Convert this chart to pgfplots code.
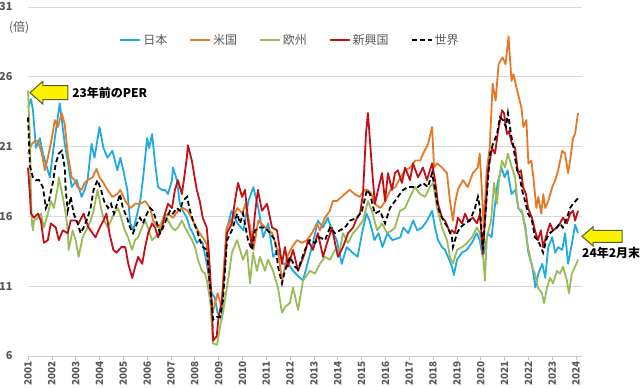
\documentclass[border=0pt]{standalone}
\usepackage{fontspec}
\setmainfont{Noto Sans CJK JP}
\usepackage{pgfplots}
\pgfplotsset{compat=1.18}
\usetikzlibrary{calc}
\definecolor{cJP}{RGB}{32,171,224}
\definecolor{cUS}{RGB}{228,122,40}
\definecolor{cEU}{RGB}{155,187,89}
\definecolor{cEM}{RGB}{192,16,24}
\definecolor{ctxt}{RGB}{89,89,89}
\definecolor{arrowedge}{RGB}{79,98,40}
\begin{document}
\begin{tikzpicture}
\begin{axis}[
  scale only axis, width=554pt, height=349pt,
  xmin=0, xmax=279, ymin=6, ymax=31,
  clip=false,
  ytick={6,11,16,21,26,31},
  xtick={0,12,24,36,48,60,72,84,96,108,120,132,144,156,168,180,192,204,216,228,240,252,264,276},
  xticklabels={2001,2002,2003,2004,2005,2006,2007,2008,2009,2010,2011,2012,2013,2014,2015,2016,2017,2018,2019,2020,2021,2022,2023,2024},
  ymajorgrids, major grid style={draw=gray!30, line width=0.8pt},
  axis x line*=bottom, axis y line*=left,
  y axis line style={draw=none},
  x axis line style={draw=gray!40, line width=0.8pt},
  ytick style={draw=none},
  xtick style={draw=gray!50, line width=0.6pt},
  tick align=outside, major tick length=4pt,
  /pgf/number format/assume math mode=true,
  yticklabel style={font=\bfseries\fontsize{11}{12}\selectfont, text=ctxt, xshift=-8pt},
  xticklabel style={font=\bfseries\fontsize{10}{11}\selectfont, text=ctxt, rotate=90, anchor=east, inner sep=1pt},
  legend style={at={(axis description cs:0.473,0.905)}, anchor=center, draw=none, fill=none,
    legend columns=5, font=\fontsize{12}{14}\selectfont, text=ctxt,
    /tikz/every even column/.append style={column sep=20pt}},
  legend image code/.code={\draw[#1] (0pt,0pt) -- (20pt,0pt);},
]
\addplot[color=cJP, line width=1.8pt, line join=round] coordinates {
(0,23.8)(1.5,24.4)(2.5,23.6)(4,20.9)(6,21.6)(7.5,20.5)(11,18.8)(13.5,21.6)(16,24.1)(18.5,21.2)(20,20.0)(22,18.1)(24.5,18.6)(27,17.4)(28.5,17.9)(30,18.6)(32,21.2)(33.5,20.2)(36,22.4)(38,20.9)(40,20.2)(42.5,20.7)(45,19.3)(46.5,20.2)(48,19.3)(50,17.9)(51.5,15.5)(53,15.0)(55,16.2)(56.5,17.1)(58,18.8)(60,21.6)(61,20.9)(62.5,21.9)(64,19.8)(65.5,18.1)(67.5,17.9)(69,17.9)(70.5,17.6)(72.5,18.6)(73,19.5)(75,18.6)(76.5,16.9)(78,16.4)(80,15.9)(81.5,15.2)(83,14.8)(85,14.1)(86.5,14.3)(88,14.1)(90,12.6)(92.5,10.5)(94,10.2)(95.5,9.1)(97.5,8.6)(98.5,11.5)(100,15.0)(102.5,16.4)(105.5,15.5)(108.5,15.0)(111,17.1)(113.5,18.1)(116,16.6)(118.5,14.5)(121,15.5)(123.5,13.1)(126,13.6)(128.5,12.6)(131,12.6)(133.5,12.1)(137,11.6)(138.5,11.4)(143.5,14.1)(146,15.7)(148.5,15.2)(151,15.9)(153,15.0)(155.5,14.3)(158,12.6)(160.5,13.8)(163.5,13.4)(166,13.1)(168.5,15.0)(170.5,16.2)(172,15.7)(174.5,14.3)(176.5,14.8)(178.5,13.8)(181,14.8)(183.5,14.3)(187.5,14.5)(189,15.2)(191.5,14.8)(194,15.7)(196,15.0)(198.5,15.2)(201,15.7)(203.5,16.4)(205,15.2)(206.5,14.3)(208.5,13.8)(210,13.6)(211.5,13.1)(213.5,12.4)(214.5,11.8)(216,12.9)(218.5,13.4)(221,13.6)(223.5,14.1)(226,14.8)(227.5,14.3)(229,13.1)(230,13.6)(231.5,14.8)(233.5,14.5)(235,16.6)(236.5,18.4)(238.5,19.5)(240,18.8)(241.5,19.3)(243.5,17.6)(245.5,17.9)(247,16.6)(249,16.2)(250.5,15.2)(252,13.4)(254,12.4)(255.5,10.9)(257,11.9)(259,12.6)(260.5,11.6)(262,13.8)(264,14.5)(265.5,13.4)(267,13.8)(269,13.6)(270.5,14.8)(272,12.6)(274,14.1)(275.5,15.4)(277,14.8)
};
\addlegendentry{日本}
\addplot[color=cUS, line width=1.8pt, line join=round] coordinates {
(0,20.5)(2,21.2)(3.5,21.4)(5,21.4)(7,20.5)(8.5,19.3)(10,20.2)(12,21.6)(13.5,22.9)(15,22.4)(17,23.4)(18.5,22.6)(20,20.5)(22,18.8)(23.5,18.6)(25,18.1)(27,17.9)(28.5,18.4)(30,18.6)(32.5,18.8)(34.5,19.4)(36,18.8)(38,18.4)(40,17.9)(42.5,17.4)(45,17.6)(46.5,17.9)(49,17.1)(51.5,16.6)(54,16.9)(56.5,16.9)(59,17.1)(61.5,16.6)(63,15.7)(65.5,15.2)(68,15.7)(70.5,16.2)(73,15.9)(75.5,16.4)(78,16.6)(80.5,16.4)(83,15.7)(85.5,15.0)(88,14.5)(90,14.0)(91.5,10.7)(93,9.1)(95.5,10.5)(97.5,9.5)(98.5,12.0)(100,15.2)(103,15.9)(105.5,16.6)(108,16.2)(109.5,16.9)(112,15.2)(113.5,13.6)(116,15.7)(119.5,15.2)(123,14.8)(126,13.4)(128,11.4)(130.5,13.1)(133,13.8)(135.5,14.3)(138,14.1)(140.5,14.3)(143,14.8)(145.5,15.5)(147,15.0)(149.5,15.9)(152,16.4)(153.5,17.1)(155.5,17.1)(158,17.4)(159.5,17.6)(162,17.9)(164.5,17.6)(167,17.4)(169.5,17.9)(171,17.9)(173,17.6)(174.5,16.9)(177.5,16.6)(180,17.1)(182.5,17.9)(185,18.1)(187.5,18.8)(190,19.3)(192.5,19.5)(195,20.0)(197.5,20.0)(199,20.5)(201.5,21.2)(203.5,22.4)(204.5,19.5)(206,19.8)(208.5,19.5)(211,19.1)(212.5,17.1)(214,15.7)(215,16.9)(216.5,17.9)(219,18.6)(221.5,18.1)(224,19.1)(226.5,19.5)(227.5,20.5)(228.5,18.1)(229.5,15.2)(231,19.3)(232.5,20.9)(234,25.5)(235.5,24.3)(237,26.9)(239,27.4)(240.5,26.9)(242,28.9)(243.5,25.7)(244.5,26.2)(246,25.2)(248.5,23.8)(249.5,22.4)(251,22.9)(252,19.8)(253.5,20.0)(254.5,18.8)(256,16.6)(257,17.4)(258.5,16.2)(259.5,17.6)(260.5,16.6)(262,17.1)(264,18.1)(265.5,18.6)(267,19.3)(269,20.7)(270.5,20.5)(272,19.1)(273,20.0)(274.5,21.6)(275.5,21.9)(277,23.4)
};
\addlegendentry{米国}
\addplot[color=cEU, line width=1.8pt, line join=round] coordinates {
(0,25.0)(1,21.5)(1.5,17.4)(2,15.5)(2.5,15.0)(3,15.7)(5,15.9)(6.5,16.2)(8,15.2)(10,16.2)(11.5,17.1)(13,16.6)(15,18.1)(15.5,18.8)(17.5,17.4)(19,16.2)(20,15.0)(20.5,13.6)(22.5,15.0)(24,14.3)(25.5,13.1)(27.5,14.5)(30,15.2)(31.5,15.7)(33,16.4)(35,17.9)(36.8,16.6)(38.3,15.7)(40.3,15.2)(41.8,15.7)(43.3,16.2)(45.3,16.6)(46.3,16.2)(48.8,15.0)(50.4,14.5)(52.4,13.6)(53.9,14.3)(55.4,14.5)(57.4,15.2)(58.9,15.7)(60.4,15.2)(62.4,14.3)(64,14.5)(65.5,14.8)(67.5,15.7)(69,16.2)(70.5,15.7)(72.5,15.2)(74,15.0)(75.5,15.2)(77.5,15.7)(79.1,15.2)(80.6,14.8)(82.6,14.3)(84.1,13.8)(85.6,12.9)(87.6,12.1)(89.1,11.9)(90.1,11.4)(91.7,10.0)(93.2,6.9)(95.2,6.8)(96.7,8.1)(98.2,9.1)(100.7,11.4)(102.7,13.4)(105.3,14.3)(106.8,13.6)(108.3,12.9)(110.3,13.6)(111.8,11.2)(113.3,13.4)(115.3,12.1)(116.8,13.1)(119.4,12.1)(120.9,12.9)(123.4,12.1)(125.9,10.9)(127.9,9.1)(129.4,9.5)(131.9,9.8)(133.5,10.9)(136,9.3)(138.5,11.4)(142,12.1)(144.5,11.9)(147,12.6)(149.6,13.1)(152.1,12.9)(154.6,13.6)(157.1,13.6)(158.6,14.8)(161.2,14.1)(163.7,14.8)(166.2,15.2)(168.7,15.7)(171.2,17.1)(173.2,16.4)(175.8,15.0)(178.3,15.5)(180.8,14.8)(183.3,15.0)(184.8,15.2)(187.3,16.4)(189.9,16.6)(192.4,17.4)(194.9,18.1)(197.4,17.6)(199.9,17.4)(202.4,18.1)(204,18.4)(206,16.6)(208.5,15.2)(211,14.3)(212.5,13.1)(214,12.6)(216.1,13.6)(218.6,13.8)(221.1,14.1)(223.6,14.5)(226.1,15.2)(227.6,14.8)(229.1,13.4)(230.1,11.4)(231.1,14.5)(233.2,15.7)(234.7,18.4)(236.2,16.9)(237.2,18.6)(238.7,20.0)(240.2,19.5)(241.7,20.5)(243.7,19.5)(245.3,18.8)(246.8,16.6)(248.8,16.4)(250.3,15.2)(251.8,13.8)(253.8,12.4)(255.3,11.9)(256.8,10.9)(258.8,10.5)(259.9,9.8)(261.4,10.9)(262.9,11.6)(264.4,11.2)(266.4,12.1)(267.9,11.9)(269.4,12.4)(271.4,11.4)(272.4,10.5)(273.9,11.9)(275.5,12.4)(277,12.9)
};
\addlegendentry{欧州}
\addplot[color=cEM, line width=1.8pt, line join=round] coordinates {
(0,19.5)(1,17.5)(1.5,16.2)(3,15.9)(5,16.2)(6.5,15.7)(8,14.1)(10,14.3)(11.5,15.5)(14,15.2)(15.5,14.3)(17.5,15.0)(20,14.8)(21.5,15.7)(24,15.7)(25.5,15.5)(28,16.2)(30.5,15.2)(32.5,14.8)(34,14.5)(35.5,15.0)(38,15.7)(39.5,16.2)(41,14.8)(43,13.6)(44.5,13.4)(47,13.8)(49,13.8)(50.5,12.6)(52.5,11.6)(54,12.4)(55.5,13.1)(57.5,12.6)(59,13.8)(60.5,14.8)(62.5,15.5)(64,15.2)(65.5,14.5)(67.5,15.2)(69,16.2)(70.5,16.9)(72.5,16.6)(74,17.9)(75.5,18.6)(77.5,17.6)(78.5,18.6)(80,20.2)(80.5,21.1)(82.5,20.0)(85,17.9)(86.5,17.1)(88,15.9)(90,15.2)(91,13.6)(92.7,9.5)(93.2,7.1)(95,7.4)(96,8.8)(97.7,10.0)(99.2,12.6)(100.2,14.8)(102.7,15.5)(104.2,17.1)(105.8,18.4)(107.8,17.4)(109.3,17.9)(110.8,15.7)(112.8,13.8)(114.3,16.2)(115.8,17.9)(117.8,16.4)(120.4,16.9)(122.9,15.2)(125.4,15.0)(127.9,12.6)(129.4,13.8)(130.9,12.4)(133.5,13.6)(136,12.1)(139.5,13.4)(141,14.3)(143.5,13.6)(146,14.8)(148.6,13.1)(150.6,14.1)(153.1,15.2)(154.6,14.1)(156.1,13.1)(158.6,13.8)(161.2,14.8)(163.7,15.2)(165.7,15.9)(167.2,16.2)(168.7,17.6)(170.2,21.9)(171.2,23.4)(173.2,19.5)(174.7,16.9)(176.3,17.9)(178.3,19.1)(179.8,17.1)(181.3,19.1)(183.3,17.9)(184.8,19.1)(186.3,19.3)(188.3,18.4)(189.9,19.5)(192.4,18.6)(193.9,19.8)(196.4,18.8)(198.9,19.5)(200.9,18.6)(203.5,19.8)(205,18.6)(206.5,16.9)(208.5,15.9)(210,15.7)(211.5,15.2)(212.5,14.8)(213.5,15.0)(215,14.8)(216.5,15.9)(218.6,15.5)(220.1,16.2)(221.6,15.7)(224.1,15.9)(226.1,15.5)(227.6,16.2)(229.1,13.3)(230.1,15.7)(231.7,19.3)(233.7,20.9)(235.2,20.5)(236.7,22.1)(238.7,23.6)(239.7,23.4)(241.2,21.9)(242.2,22.1)(243.7,21.2)(245.3,20.9)(246.8,19.1)(248.3,19.3)(249.3,18.1)(250.8,17.6)(251.8,16.6)(253.8,15.9)(255.3,15.0)(256.8,14.3)(258.3,15.0)(259.4,13.8)(261.4,14.8)(262.9,15.5)(264.4,15.0)(266.4,15.2)(267.9,15.5)(269.4,15.9)(271.4,15.5)(273,16.2)(274.5,16.4)(275.5,15.7)(277,16.4)
};
\addlegendentry{新興国}
\addplot[color=black, line width=1.8pt, dash pattern=on 5pt off 3pt] coordinates {
(0,23.1)(1,19.6)(2.5,18.8)(4,18.6)(5.5,18.6)(7.5,18.1)(9,16.6)(10.5,17.1)(12.5,18.4)(14,19.8)(15.5,20.5)(17,20.7)(18.5,19.5)(19,17.9)(20,16.4)(21.5,17.4)(23,16.2)(25,15.5)(26.5,14.8)(28,15.2)(30,15.9)(31.5,16.6)(33,17.9)(35,18.6)(36.8,17.9)(38.3,17.1)(40.3,16.6)(41.8,16.9)(43.3,16.2)(45.3,17.1)(46.3,17.6)(47.8,16.6)(49.9,15.9)(51.4,15.2)(52.9,14.8)(54.9,15.5)(56.4,15.9)(57.9,15.5)(59.9,16.2)(61.4,16.6)(63,16.4)(65,15.5)(66.5,14.8)(68,15.2)(70,15.9)(71.5,16.4)(73,16.2)(75,16.6)(76.5,16.4)(78,17.1)(80.1,17.4)(81.6,16.4)(83.1,15.7)(85.1,15.0)(86.6,14.3)(88.1,13.8)(90.1,13.6)(91.7,10.9)(93.2,8.6)(95.2,8.8)(96.7,8.8)(98.2,10.0)(100.2,14.3)(102.7,15.0)(105.3,16.2)(106.8,15.5)(108.3,16.2)(110.8,14.3)(112.8,13.6)(114.3,15.0)(116.8,15.2)(119.4,15.2)(121.9,14.8)(124.4,14.3)(125.9,12.4)(127.9,11.2)(129.4,12.1)(131.9,13.1)(134.5,12.4)(136,12.2)(139.5,13.6)(142,14.3)(144.5,14.1)(147,14.5)(149.6,14.3)(152.1,15.2)(154.6,14.8)(157.1,15.0)(159.6,15.2)(162.2,15.7)(165.7,15.9)(168.2,16.4)(170.7,17.9)(172.2,17.6)(174.7,16.2)(177.3,16.4)(179.8,15.5)(182.3,16.6)(184.8,17.1)(187.3,17.6)(188.9,17.9)(191.4,18.1)(193.9,18.1)(196.4,18.1)(198.9,18.4)(201.4,18.1)(203.5,19.1)(205,17.9)(206.5,16.6)(208.5,15.9)(210,15.5)(211.5,15.2)(213.5,14.5)(214,13.8)(216.1,14.8)(217.6,15.2)(220.1,15.5)(222.6,15.7)(225.1,16.6)(226.6,17.4)(227.6,16.6)(229.1,13.6)(231.1,17.6)(232.7,20.5)(234.2,21.2)(236.2,21.9)(237.7,23.1)(239.2,22.9)(240.7,22.4)(241.7,23.4)(243.2,21.9)(244.2,21.2)(246.3,19.3)(247.3,19.1)(248.8,17.9)(250.3,17.1)(251.8,16.2)(253.8,15.7)(255.3,14.5)(256.8,14.3)(258.3,13.8)(259.4,13.4)(261.4,14.5)(262.9,14.8)(264.4,15.0)(266.4,15.2)(267.9,15.5)(269.4,15.2)(271.4,15.9)(273,16.6)(274.5,16.9)(277,17.3)
};
\addlegendentry{世界}
\node[font=\fontsize{12}{14}\selectfont, text=ctxt] at (axis description cs:-0.016,0.94) {(倍)};
\draw[fill=yellow, draw=arrowedge, line width=1pt, line join=miter] (axis cs:1,24.86) -- ++(13pt,11.5pt) -- ++(0pt,-4.5pt) -- ++(25pt,0pt) -- ++(0pt,-14pt) -- ++(-25pt,0pt) -- ++(0pt,-4.5pt) -- cycle;
\node[anchor=west, inner sep=0pt, font=\bfseries\fontsize{12}{14}\selectfont] at (axis cs:22.2,24.86) {23年前のPER};
\draw[fill=yellow, draw=arrowedge, line width=1pt, line join=miter] (axis cs:279,14.57) -- ++(11pt,9.5pt) -- ++(0pt,-3.5pt) -- ++(29pt,0pt) -- ++(0pt,-12pt) -- ++(-29pt,0pt) -- ++(0pt,-3.5pt) -- cycle;
\node[anchor=west, inner sep=0pt, font=\bfseries\fontsize{12}{14}\selectfont] at (axis cs:279,13.36) {24年2月末};
\coordinate (BL) at (rel axis cs:0,0);
\end{axis}
\pgfresetboundingbox
\path[use as bounding box] ($(BL)+(-28pt,-32pt)$) rectangle ($(BL)+(612pt,356pt)$);
\end{tikzpicture}
\end{document}
